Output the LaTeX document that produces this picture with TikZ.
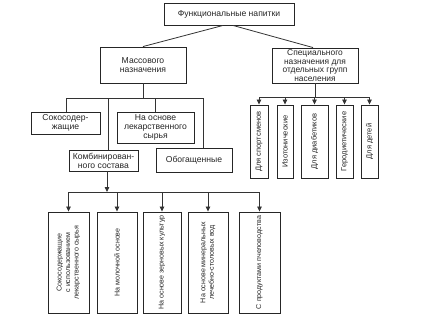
\documentclass[tikz,border=0pt]{standalone}
\usepackage{fontspec}
\setmainfont{Liberation Sans}
\usetikzlibrary{arrows.meta}
\begin{document}
\begin{tikzpicture}[x=1pt,y=-1pt,
  box/.style={draw=black!85, line width=0.9pt, inner sep=1pt, align=center,
    font=\fontsize{8.6}{9.2}\selectfont, text=black!85},
  vbox/.style={box, rotate=90, font=\fontsize{7.1}{8.5}\selectfont},
  rbox/.style={vbox, font=\fontsize{7.5}{8.5}\selectfont},
  ln/.style={draw=black!80, line width=0.8pt},
  arr/.style={ln, -{Triangle[length=5pt,width=4.5pt]}}]
\useasboundingbox[fill=white] (0,0) rectangle (428,319);

% top level
\node[box, minimum width=130pt, minimum height=22pt] (top) at (229,14) {Функциональные напитки};
\node[box, minimum width=86pt, minimum height=36pt] (mass) at (143,65) {Массового\\назначения};
\node[box, minimum width=86pt, minimum height=35pt, font=\fontsize{8.4}{8.6}\selectfont, inner sep=0.5pt] (spec) at (315,65.5) {Специального\\назначения для\\отдельных групп\\населения};

% mass children
\node[box, minimum width=69pt, minimum height=22pt] (soko) at (65.5,123) {Сокосодер-\\жащие};
\node[box, minimum width=77pt, minimum height=31pt] (lek) at (155.5,127.5) {На основе\\лекарственного\\сырья};
\node[box, minimum width=69pt, minimum height=21pt, inner sep=0.5pt] (komb) at (103.5,160.5) {Комбинирован-\\ного состава};
\node[box, minimum width=76pt, minimum height=24pt] (obog) at (194,160) {Обогащенные};

% bottom boxes
\node[vbox, minimum width=101pt, minimum height=41pt] (b1) at (68.5,262.5) {Сокосодержащие\\с использованием\\лекарственного сырья};
\node[vbox, minimum width=101pt, minimum height=40pt] (b2) at (117,262.5) {На молочной основе};
\node[vbox, minimum width=101pt, minimum height=38pt] (b3) at (162,262.5) {На основе зерновых культур};
\node[vbox, minimum width=101pt, minimum height=40pt] (b4) at (208,262.5) {На основе минеральных\\лечебно-столовых вод};
\node[vbox, minimum width=101pt, minimum height=41pt] (b5) at (259.5,262.5) {С продуктами пчеловодства};

% right boxes
\node[rbox, minimum width=73pt, minimum height=18pt] (r1) at (259,141.5) {Для спортсменов};
\node[rbox, minimum width=73pt, minimum height=16pt] (r2) at (285,141.5) {Изотонические};
\node[rbox, minimum width=73pt, minimum height=27pt] (r3) at (314.5,141.5) {Для диабетиков};
\node[rbox, minimum width=73pt, minimum height=17pt] (r4) at (344.5,141.5) {Геродиетические};
\node[rbox, minimum width=73pt, minimum height=17pt] (r5) at (369.5,141.5) {Для детей};

% top connectors
\draw[ln] ([xshift=-6pt]top.south) -- (mass.north);
\draw[ln] ([xshift=4pt]top.south) -- ([xshift=-2pt]spec.north);

% mass branching
\coordinate (mj) at (143,98);
\coordinate (mL) at (66,98);
\coordinate (mR) at (203,98);
\coordinate (kb) at (108,98);
\draw[ln] (mass.south) -- (mj);
\draw[ln] (mL) -- (mR);
\draw[ln] (mL) -- (mL |- soko.north);
\draw[ln] (kb) -- (kb |- komb.north);
\draw[ln] (lek.north |- mj) -- (lek.north);
\draw[ln] (mR) -- (mR |- obog.north);

% komb branching
\coordinate (kj) at (107,192);
\draw[arr] ([xshift=3.5pt]komb.south) -- (kj);
\draw[ln] (b1.east |- kj) -- (b5.east |- kj);
\foreach \b in {b1,b2,b3,b4,b5} \draw[arr] (\b.east |- kj) -- (\b.east);

% spec branching
\coordinate (sj) at (315,97);
\draw[ln] (spec.south) -- (sj);
\draw[ln] (r1.east |- sj) -- (r5.east |- sj);
\foreach \b in {r1,r2,r3,r4,r5} \draw[arr] (\b.east |- sj) -- (\b.east);
\end{tikzpicture}
\end{document}
